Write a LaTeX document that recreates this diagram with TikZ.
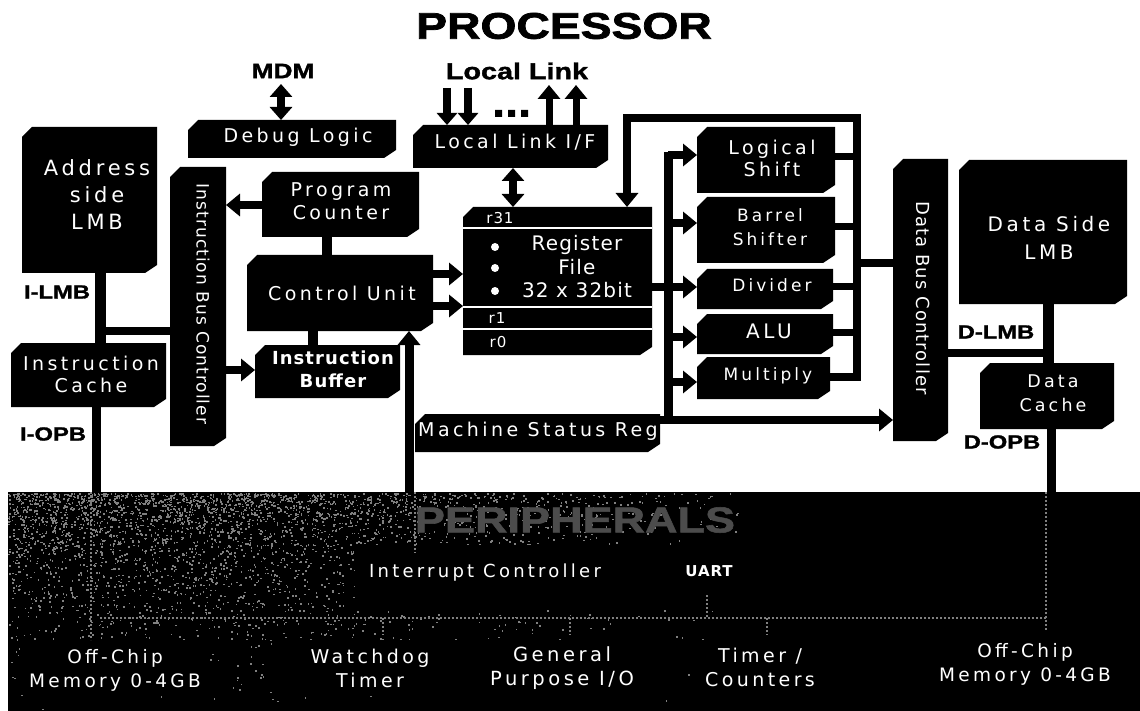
\documentclass[tikz,border=0pt]{standalone}
\usepackage{fontspec}
\usetikzlibrary{arrows.meta}
\setmainfont[LetterSpace=18]{DejaVu Sans}
\newfontfamily\tight[LetterSpace=6]{DejaVu Sans}
\newfontfamily\tagfont[FakeBold=1.5,FakeStretch=1.25]{Liberation Sans}
\newfontfamily\titlefont[FakeBold=2,FakeStretch=1.25]{Liberation Sans}
\newcommand{\mybox}[5]{%
  \fill[black] (#2+10,#3) -- (#4,#3) -- (#4,#5-8) -- (#4-12,#5) -- (#2,#5) -- (#2,#3+10) -- cycle;
  \pgfmathsetmacro{\cxx}{(#2+#4)/2}\pgfmathsetmacro{\cyy}{(#3+#5)/2}%
  \pgfmathsetmacro{\www}{#4-#2}\pgfmathsetmacro{\hhh}{#5-#3}%
  \node[blk,minimum width=\www pt,minimum height=\hhh pt] (#1) at (\cxx,\cyy) {};}
\tikzset{
  blk/.style={rectangle,draw=none,inner sep=0pt,outer sep=0pt},
  lbl/.style={text=white,font=\fontsize{19}{22}\selectfont,inner sep=0pt,align=center},
  tag/.style={text=black,font=\tagfont\fontsize{19}{20}\selectfont\bfseries,inner sep=0pt},
  wire/.style={line width=8pt,draw=black},
  conn/.style={wire,-{Triangle[length=14pt,width=22pt]}},
  dbl/.style={wire,{Triangle[length=13pt,width=22pt]}-{Triangle[length=13pt,width=22pt]}},
  wbar/.style={draw=white,line width=2.5pt},
  faint/.style={draw=black!50,line width=1.5pt,dash pattern=on 2pt off 2pt}
}
\begin{document}
\begin{tikzpicture}[x=1pt,y=-1pt]
\useasboundingbox (0,0) rectangle (1140,711);
\fill[white] (0,0) rectangle (1140,711);
% peripheral band
\fill[black] (8,492) rectangle (1140,711);
\pgfmathsetseed{4242}
\foreach \i in {1,...,3600}{
  \pgfmathsetmacro{\xa}{8+740*rnd*(0.3+0.7*rnd)}
  \pgfmathsetmacro{\ya}{493+218*rnd*rnd}
  \fill[black!50] (\xa,\ya) rectangle ++(1.6,1.6);
}
\fill[black] (355,545) rectangle (760,610);
\fill[black] (20,640) rectangle (205,695);
\fill[black] (275,640) rectangle (660,695);
\node[text=black!70,font=\tagfont\fontsize{36}{38}\selectfont\bfseries,inner sep=0pt] (perip) at (575,520) {PERIPHERALS};
\coordinate (busl) at (100,618);
\coordinate (busr) at (1046,618);
\draw[faint] (busl) -- (busr);
\draw[faint] (383,618) -- (383,635);
\draw[faint] (570,618) -- (570,635);
\draw[faint] (707,595) -- (707,618);
\draw[faint] (767,618) -- (767,635);
\draw[faint] (91,492) -- (91,640);
\draw[faint] (415,492) -- (415,553);
\draw[faint] (1046,492) -- (1046,630);
% title
\node[text=black,font=\titlefont\fontsize{37}{40}\selectfont\bfseries,inner sep=0pt] (title) at (564,26) {PROCESSOR};
\node[tag,font=\tagfont\fontsize{21}{22}\selectfont\bfseries] (mdm) at (283,71) {MDM};
\node[tag,font=\tagfont\fontsize{23}{24}\selectfont\bfseries] (llk) at (517,71) {Local Link};
% boxes
\mybox{addr}{22}{127}{157}{273}
\mybox{debug}{188}{120}{396}{158}
\mybox{llif}{413}{125}{608}{168}
\mybox{ibc}{170}{167}{226}{446}
\mybox{pc}{262}{172}{419}{237}
\mybox{cu}{247}{255}{433}{331}
\mybox{ibuf}{255}{345}{400}{398}
\mybox{icache}{11}{343}{166}{407}
\mybox{reg}{463}{207}{652}{355}
\mybox{logic}{697}{127}{835}{193}
\mybox{barrel}{697}{197}{835}{263}
\mybox{divider}{697}{269}{833}{309}
\mybox{alu}{697}{314}{833}{354}
\mybox{mult}{697}{357}{830}{399}
\mybox{msr}{415}{414}{660}{452}
\mybox{dbc}{893}{159}{948}{441}
\mybox{dlmb}{959}{160}{1127}{304}
\mybox{dcache}{980}{363}{1114}{429}
% texts
\node[lbl,font=\fontsize{21}{27}\selectfont] (t1) at (97,195) {Address\\side\\LMB};
\node[lbl] (t2) at (298,137) {Debug Logic};
\node[lbl] (t3) at (515,142) {Local Link I/F};
\node[lbl,font=\tight\fontsize{17}{20}\selectfont,rotate=-90] (t4) at (203,304) {Instruction Bus Controller};
\node[lbl,font=\fontsize{19}{23}\selectfont] (t5) at (341,201) {Program\\Counter};
\node[lbl] (t6) at (342,293) {Control Unit};
\node[lbl,font=\tight\fontsize{18}{23}\selectfont\bfseries] (t7) at (333,369) {Instruction\\Buffer};
\node[lbl,font=\fontsize{19}{22}\selectfont] (t8) at (91,374) {Instruction\\Cache};
\node[lbl,font=\tight\fontsize{15}{18}\selectfont] (r31) at (500,218) {r31};
\node[lbl,font=\tight\fontsize{15}{18}\selectfont] (r1) at (497,318) {r1};
\node[lbl,font=\tight\fontsize{15}{18}\selectfont] (r0) at (498,342) {r0};
\node[lbl,font=\tight\fontsize{20}{22}\selectfont] (t9) at (577,245) {Register};
\node[lbl,font=\tight\fontsize{20}{22}\selectfont] (t10) at (577,267) {File};
\node[lbl,font=\tight\fontsize{20}{22}\selectfont] (t11) at (577,290) {32 x 32bit};
\node[lbl,font=\fontsize{19}{22}\selectfont] (t12) at (772,158) {Logical\\Shift};
\node[lbl,font=\fontsize{17}{24}\selectfont] (t13) at (770,227) {Barrel\\Shifter};
\node[lbl,font=\fontsize{17}{22}\selectfont] (t14) at (772,285) {Divider};
\node[lbl,font=\fontsize{20}{22}\selectfont] (t15) at (769,331) {ALU};
\node[lbl,font=\fontsize{17}{22}\selectfont] (t16) at (768,376) {Multiply};
\node[lbl] (t17) at (538,431) {Machine Status Reg};
\node[lbl,font=\tight\fontsize{18}{20}\selectfont,rotate=-90] (t18) at (923,298) {Data Bus Controller};
\node[lbl,font=\fontsize{20}{28}\selectfont] (t19) at (1049,238) {Data Side\\LMB};
\node[lbl,font=\fontsize{17.5}{24}\selectfont] (t20) at (1053,393) {Data\\Cache};
% left/right tags
\node[tag] (ilmb) at (57,292) {I-LMB};
\node[tag] (iopb) at (53,434) {I-OPB};
\node[tag] (dlmbt) at (996,332) {D-LMB};
\node[tag] (dopb) at (1002,442) {D-OPB};
% bottom texts
\node[lbl,font=\fontsize{18.5}{24}\selectfont] (b1) at (115,670) {Off-Chip\\Memory 0-4GB};
\node[lbl,font=\fontsize{19}{24}\selectfont] (b2) at (370,668) {Watchdog\\Timer};
\node[lbl,font=\fontsize{19.5}{24}\selectfont] (b3) at (562,668) {General\\Purpose I/O};
\node[lbl,font=\fontsize{19}{24}\selectfont] (b4) at (760,667) {Timer /\\Counters};
\node[lbl,font=\fontsize{18.5}{24}\selectfont] (b5) at (1025,664) {Off-Chip\\Memory 0-4GB};
\node[lbl,font=\fontsize{18}{20}\selectfont] (b6) at (485,573) {Interrupt Controller};
\node[lbl,font=\tight\fontsize{15}{16}\selectfont\bfseries] (b7) at (709,571) {UART};
\coordinate (botl) at (96,492);
\coordinate (boti) at (409,492);
\coordinate (botd) at (1051,492);
\coordinate (lbus) at (668,0);
\coordinate (rbus) at (857,0);
% connectors
\draw[dbl] (281,84) -- (281 ,0 |- debug.north);
\draw[conn,-{Triangle[length=12pt,width=20pt]}] (447,88) -- (447,0 |- llif.north);
\draw[conn,-{Triangle[length=12pt,width=20pt]}] (468,88) -- (468,0 |- llif.north);
\fill (495,110) rectangle ++(7,7) (508,110) rectangle ++(7,7) (521,110) rectangle ++(7,7);
\draw[conn,line width=7pt] (549,0 |- llif.north) -- (549,85);
\draw[conn,line width=7pt] (576,0 |- llif.north) -- (576,85);
\draw[dbl] (513,0 |- llif.south) -- (513,0 |- reg.north);
\draw[wire,line width=11pt] (100,0 |- addr.south) -- (100,0 |- icache.north);
\draw[wire] (100,331) -- (ibc.west |- 0,331);
\draw[wire,line width=9pt] (96,0 |- icache.south) -- (botl);
\draw[conn] (pc.west |- 0,205) -- (ibc.east |- 0,205);
\draw[conn] (ibc.east |- 0,370) -- (ibuf.west |- 0,370);
\draw[wire,line width=10pt] (327,0 |- pc.south) -- (327,0 |- cu.north);
\draw[wire,line width=10pt] (313,0 |- cu.south) -- (313,0 |- ibuf.north);
\draw[conn,line width=9pt] (boti) -- (409,0 |- cu.south);
\draw[conn] (cu.east |- 0,274) -- (reg.west |- 0,274);
\draw[conn] (cu.east |- 0,306) -- (reg.west |- 0,306);
\draw[wire,line width=9pt] (lbus |- 0,152) -- (lbus |- 0,420);
\draw[conn] (lbus |- 0,155) -- (logic.west |- 0,155);
\draw[conn] (lbus |- 0,223) -- (barrel.west |- 0,223);
\draw[conn] (reg.east |- 0,287) -- (divider.west |- 0,287);
\draw[conn] (lbus |- 0,337) -- (alu.west |- 0,337);
\draw[conn] (lbus |- 0,382) -- (mult.west |- 0,382);
\draw[conn] (msr.east |- 0,420) -- (dbc.west |- 0,420);
\draw[conn] (mult.east |- 0,377) -- (rbus |- 0,377) -- (rbus |- 0,118) -- (627,118) -- (627,0 |- reg.north);
\draw[wire,line width=7pt] (logic.east |- 0,157) -- (rbus |- 0,157);
\draw[wire,line width=7pt] (barrel.east |- 0,227) -- (rbus |- 0,227);
\draw[wire,line width=7pt] (divider.east |- 0,287) -- (rbus |- 0,287);
\draw[wire,line width=7pt] (alu.east |- 0,332) -- (rbus |- 0,332);
\draw[wire] (rbus |- 0,263) -- (dbc.west |- 0,263);
\draw[wire,line width=11pt] (1048,0 |- dlmb.south) -- (1048,0 |- dcache.north);
\draw[wire] (dbc.east |- 0,353) -- (1048,353);
\draw[wire,line width=9pt] (1051,0 |- dcache.south) -- (botd);
% register file details
\draw[wbar] (reg.west |- 0,228) -- (reg.east |- 0,228);
\draw[wbar] (reg.west |- 0,307) -- (reg.east |- 0,307);
\draw[wbar] (reg.west |- 0,329) -- (reg.east |- 0,329);
\fill[white] (495,247) circle (4pt) (495,268) circle (4pt) (495,291) circle (4pt);
\end{tikzpicture}
\end{document}
